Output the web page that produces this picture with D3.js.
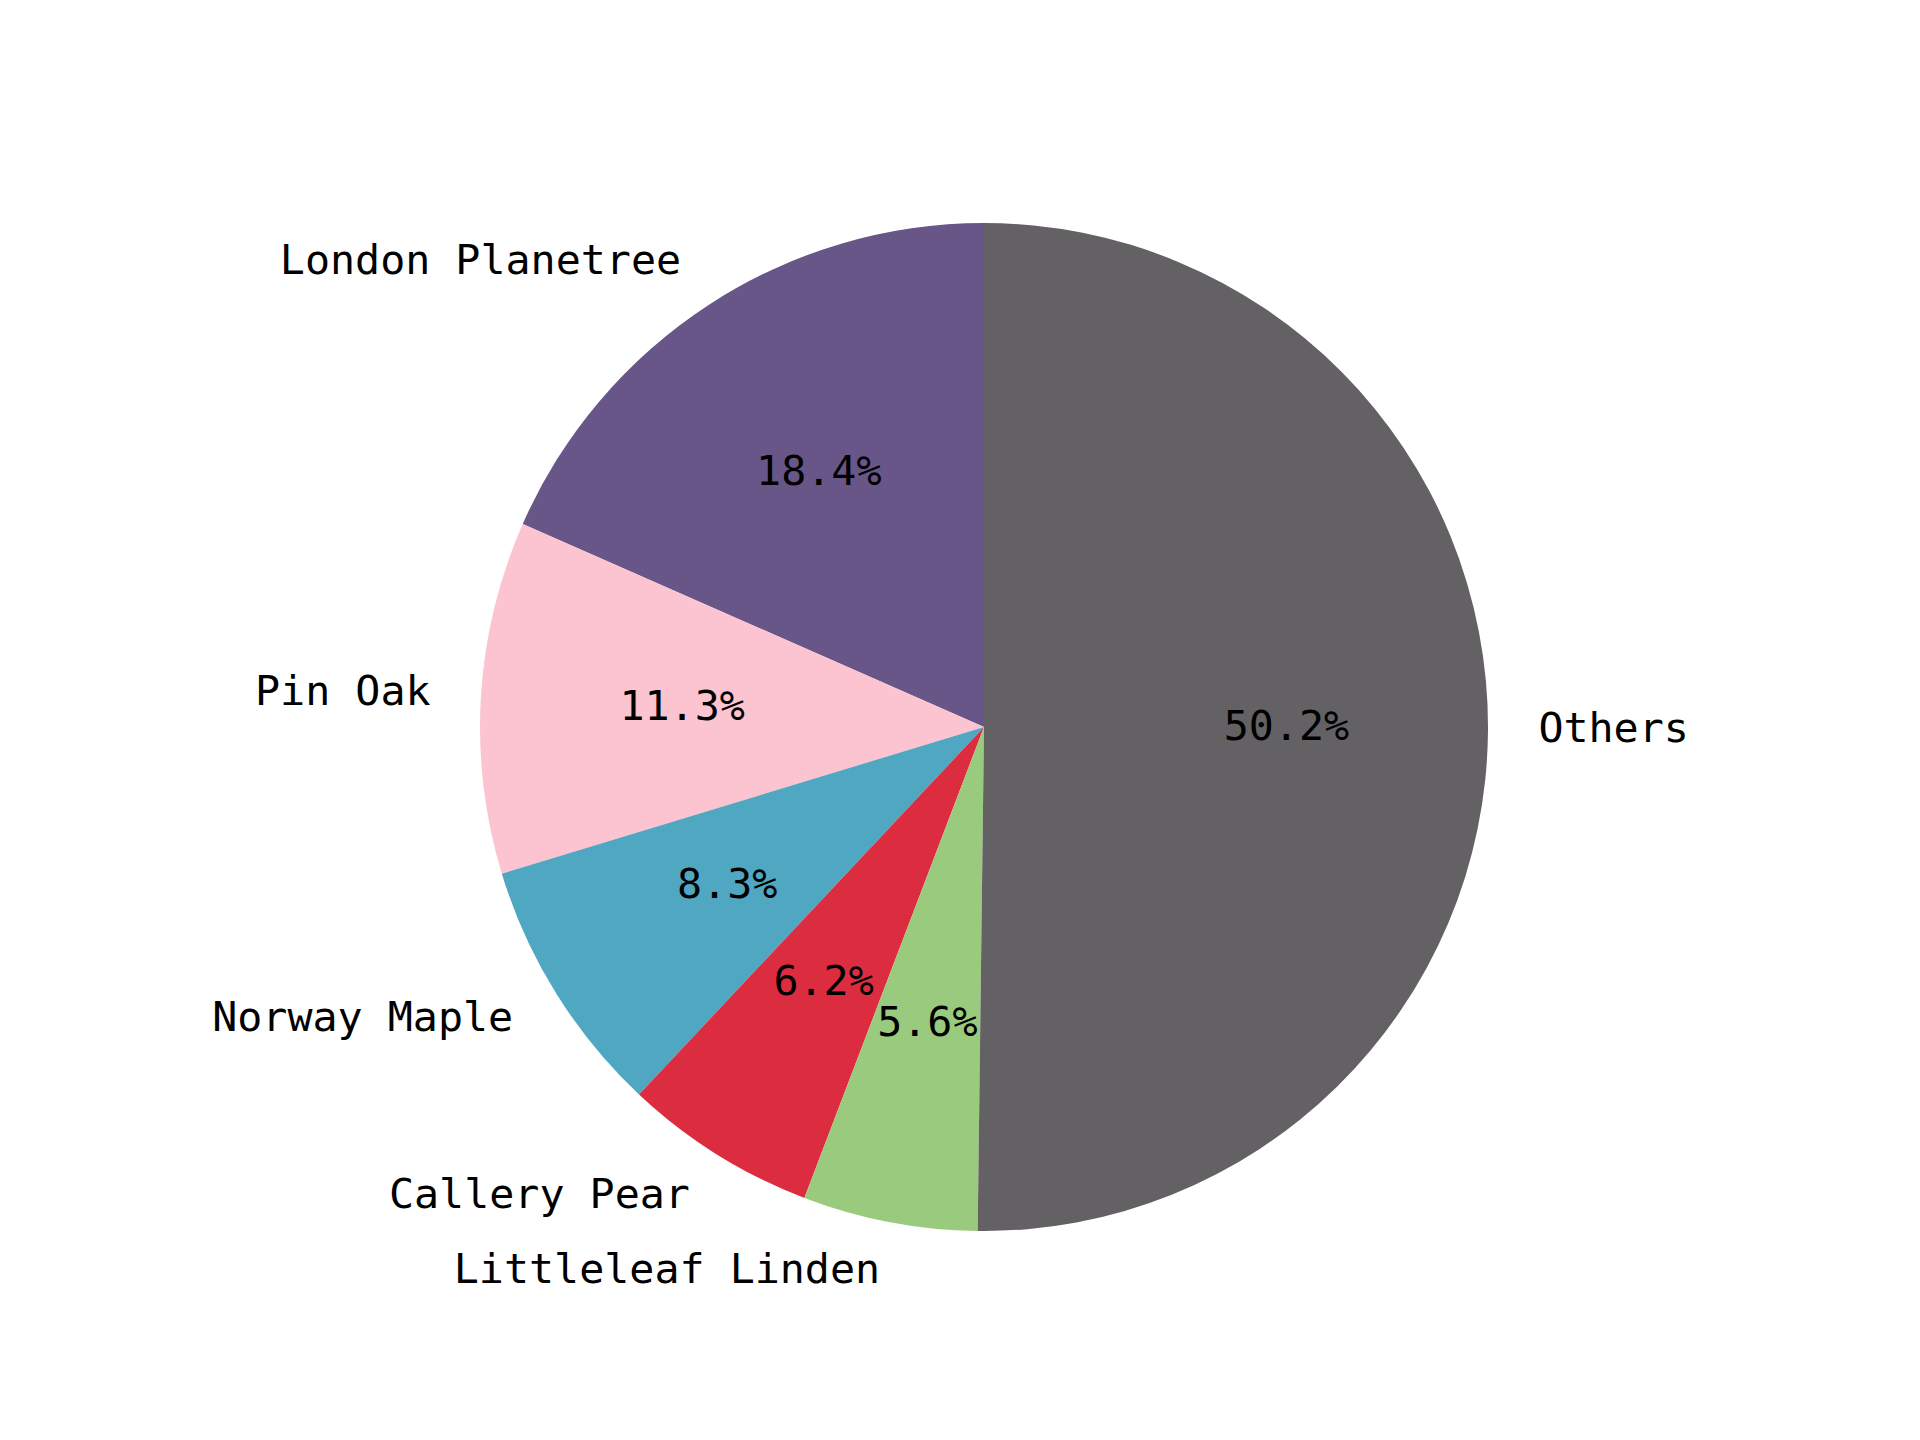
<!DOCTYPE html>
<html>
<head>
<meta charset="utf-8">
<script src="https://cdn.jsdelivr.net/npm/d3@7"></script>
<style>
  body { margin: 0; background: #fff; }
  text { font-family: "DejaVu Sans Mono", monospace; font-size: 41.67px; fill: #000; }
</style>
</head>
<body>
<svg id="chart" width="1920" height="1440"></svg>
<script>
const species = ["London Planetree", "Pin Oak", "Norway Maple", "Callery Pear", "Littleleaf Linden", "Others"];
const shares = [18.4, 11.3, 8.3, 6.2, 5.6, 50.2];
const colors = ["#675687", "#fcc3d0", "#50a7c1", "#dc2d40", "#9aca7e", "#636164"];

const cx = 984, cy = 727, radius = 504;

const svg = d3.select("#chart");
const g = svg.append("g").attr("transform", `translate(${cx},${cy})`);

// matplotlib style: start at the top, go counter-clockwise
const pie = d3.pie().sort(null).startAngle(0).endAngle(-2 * Math.PI);
const arcs = pie(shares);

const arc = d3.arc().innerRadius(0).outerRadius(radius);

g.selectAll("path")
  .data(arcs)
  .enter()
  .append("path")
  .attr("d", arc)
  .attr("fill", (d, i) => colors[i]);

const mid = d => (d.startAngle + d.endAngle) / 2;

// outer labels at 1.1 r
g.selectAll("text.label")
  .data(arcs)
  .enter()
  .append("text")
  .attr("class", "label")
  .attr("x", d => Math.sin(mid(d)) * radius * 1.1)
  .attr("y", d => -Math.cos(mid(d)) * radius * 1.1)
  .attr("dy", "-3")
  .attr("dominant-baseline", "central")
  .attr("text-anchor", d => Math.sin(mid(d)) < 0 ? "end" : "start")
  .text((d, i) => species[i]);

// percentages at 0.6 r
g.selectAll("text.pct")
  .data(arcs)
  .enter()
  .append("text")
  .attr("class", "pct")
  .attr("x", d => Math.sin(mid(d)) * radius * 0.6)
  .attr("y", d => -Math.cos(mid(d)) * radius * 0.6)
  .attr("dy", "-3")
  .attr("dominant-baseline", "central")
  .attr("text-anchor", "middle")
  .text(d => d.data.toFixed(1) + "%");
</script>
</body>
</html>
